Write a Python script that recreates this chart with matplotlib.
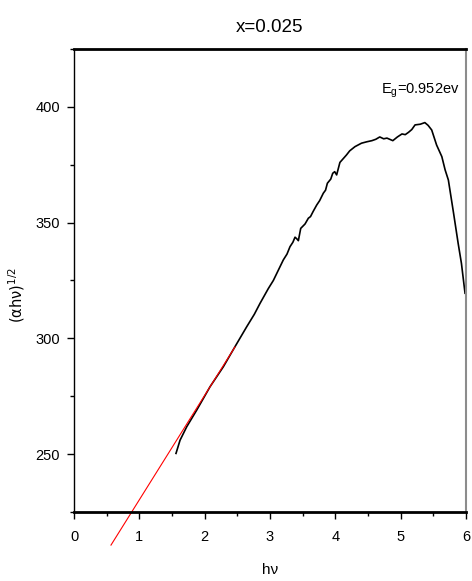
import matplotlib.pyplot as plt
from matplotlib.ticker import MultipleLocator

plt.rcParams['font.family'] = ['Liberation Sans', 'DejaVu Sans']

# Tauc plot data, (alpha*h*nu)^(1/2) against photon energy
hv = [1.561, 1.623, 1.725, 1.878, 2.082, 2.285, 2.464, 2.643, 2.760, 2.847,
      2.974, 3.051, 3.130, 3.204, 3.260, 3.306, 3.350, 3.383, 3.410, 3.434,
      3.470, 3.536, 3.587, 3.620, 3.660, 3.715, 3.760, 3.816, 3.850, 3.878,
      3.930, 3.960, 3.990, 4.020, 4.070, 4.120, 4.170, 4.220, 4.300, 4.400,
      4.480, 4.560, 4.620, 4.680, 4.740, 4.790, 4.880, 4.950, 5.020, 5.070,
      5.120, 5.170, 5.220, 5.300, 5.370, 5.420, 5.475, 5.550, 5.630, 5.680,
      5.730, 5.810, 5.880, 5.930, 5.985]
tauc = [250.3, 256.0, 261.8, 269.0, 279.1, 287.7, 296.4, 305.0, 310.4, 315.1,
        321.5, 325.0, 329.6, 333.9, 336.4, 339.6, 341.5, 343.7, 343.0, 342.2,
        347.5, 349.4, 351.9, 352.6, 354.8, 357.6, 359.5, 362.7, 364.0, 367.0,
        368.8, 371.3, 372.0, 370.6, 376.0, 377.6, 379.2, 381.0, 382.8, 384.3,
        384.9, 385.4, 386.0, 387.0, 386.2, 386.5, 385.4, 387.0, 388.3, 388.0,
        389.0, 390.2, 392.2, 392.5, 393.2, 392.0, 390.0, 383.5, 378.5, 372.8,
        368.4, 354.0, 341.0, 332.4, 319.5]

# linear fit of the absorption edge
fit_x = [0.566, 2.464]
fit_y = [210.7, 296.3]

fig = plt.figure(figsize=(4.72, 5.81), dpi=100)
ax = fig.add_axes([0.1568, 0.1188, 0.8305, 0.7969])

ax.plot(hv, tauc, color='black', linewidth=1.2)
ax.plot(fit_x, fit_y, color='red', linewidth=0.8, clip_on=False)

ax.set_xlim(0, 6)
ax.set_ylim(225, 425)
ax.xaxis.set_major_locator(MultipleLocator(1))
ax.xaxis.set_minor_locator(MultipleLocator(0.5))
ax.yaxis.set_major_locator(MultipleLocator(50))
ax.yaxis.set_minor_locator(MultipleLocator(25))
ax.tick_params(which='major', length=5, width=1, labelsize=10.5, pad=5)
ax.tick_params(axis='x', which='major', pad=8)
ax.tick_params(which='minor', length=3, width=1)

ax.spines['top'].set_linewidth(2)
ax.spines['bottom'].set_linewidth(2)
ax.spines['left'].set_linewidth(1)
ax.spines['right'].set_linewidth(1.5)
ax.spines['right'].set_color('#8c8c8c')

ax.set_title('x=0.025', fontsize=13.5, pad=12)
ax.set_xlabel('hν', fontsize=11, labelpad=14)
ax.set_ylabel(r'(αhν)$^{1/2}$', fontsize=10.5, family=['DejaVu Sans'])
ax.yaxis.set_label_coords(-0.12, 0.468)
ax.text(5.9, 407, r'E$_\mathregular{g}$=0.952ev', fontsize=10.5,
        ha='right', va='center')

fig.savefig('out.png', dpi=100)
